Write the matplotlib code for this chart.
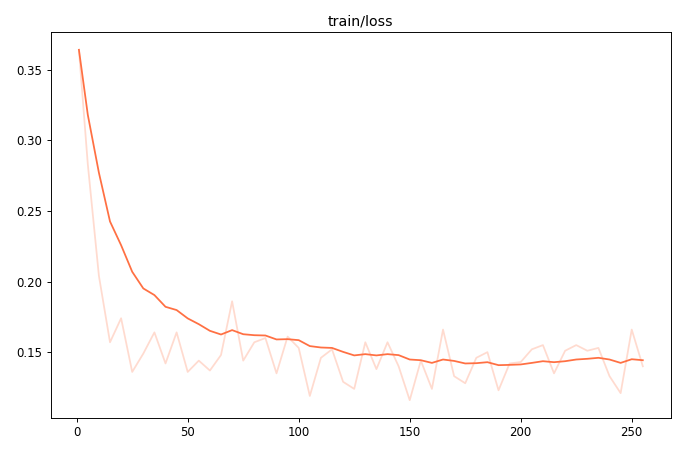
import matplotlib
matplotlib.use("Agg")
from matplotlib import pyplot as plt

# logged steps
steps = [1, 5, 10, 15, 20, 25, 30, 35, 40, 45, 50, 55, 60, 65, 70, 75, 80, 85,
         90, 95, 100, 105, 110, 115, 120, 125, 130, 135, 140, 145, 150, 155,
         160, 165, 170, 175, 180, 185, 190, 195, 200, 205, 210, 215, 220, 225,
         230, 235, 240, 245, 250, 255]

# raw loss values
raw_loss = [0.364, 0.283, 0.204, 0.157, 0.174, 0.136, 0.149, 0.164, 0.142, 0.164,
            0.136, 0.144, 0.137, 0.148, 0.186, 0.144, 0.157, 0.160,
            0.135, 0.161, 0.153, 0.119, 0.146, 0.152, 0.129, 0.124, 0.157,
            0.138, 0.157, 0.140, 0.116, 0.144, 0.124, 0.166, 0.133, 0.128,
            0.146, 0.150, 0.123, 0.142, 0.143, 0.152, 0.155, 0.135, 0.151,
            0.155, 0.151, 0.153, 0.133, 0.121, 0.166, 0.140]

# smoothed loss values
smooth_loss = [0.364, 0.318, 0.277, 0.2425, 0.2257, 0.2069, 0.1951, 0.1904, 0.1821,
               0.1798, 0.1739, 0.1698, 0.1651, 0.1625, 0.1656, 0.1627, 0.1620,
               0.1618, 0.1590, 0.1592, 0.1585, 0.1543, 0.1533, 0.1530, 0.1502,
               0.1477, 0.1486, 0.1477, 0.1486, 0.1479, 0.1448, 0.1443, 0.1424,
               0.1448, 0.1438, 0.1420, 0.1422, 0.1429, 0.1408, 0.1410, 0.1413,
               0.1424, 0.1436, 0.1429, 0.1436, 0.1448, 0.1453, 0.1460, 0.1448,
               0.1424, 0.1450, 0.1443]

color = '#ff7043'

fig = plt.figure(figsize=(8, 451 / 85), dpi=85)
ax = fig.add_subplot(111)
fig.subplots_adjust(left=0.0746, right=0.9868, top=0.9284, bottom=0.0738)

ax.plot(steps, raw_loss, color=color, alpha=0.25, linewidth=1.5)
ax.plot(steps, smooth_loss, color=color, linewidth=1.5)
ax.set_title('train/loss')

fig.savefig('out.png', dpi=85)
